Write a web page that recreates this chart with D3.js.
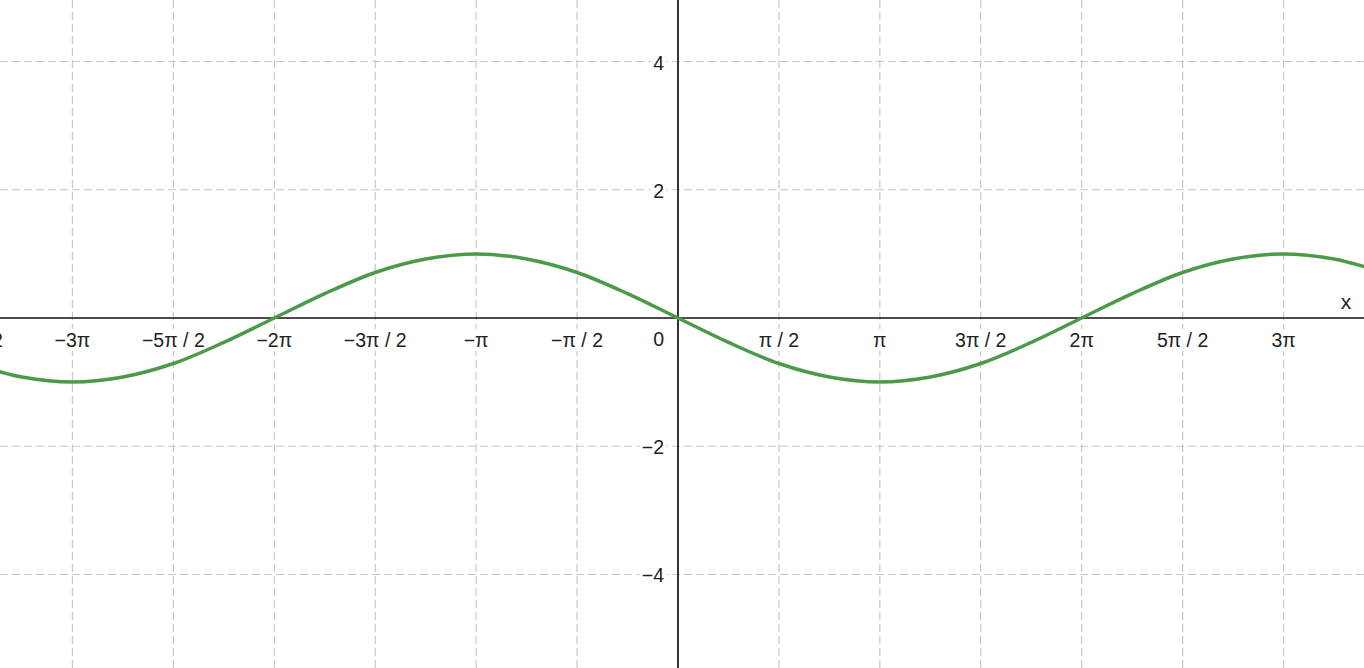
<!DOCTYPE html>
<html><head><meta charset="utf-8">
<script src="https://cdn.jsdelivr.net/npm/d3@7/dist/d3.min.js"></script>
<style>html,body{margin:0;padding:0;background:#fff;overflow:hidden}svg{display:block}</style>
</head><body>
<svg id="c" width="1364" height="668"></svg>
<script>
// curve samples: x in multiples of pi/4, y
const xQuarterPi = [-14,-13,-12,-11,-10,-9,-8,-7,-6,-5,-4,-3,-2,-1,0,1,2,3,4,5,6,7,8,9,10,11,12,13,14];
const yValues = [-0.71,-0.92,-1,-0.92,-0.71,-0.38,0,0.38,0.71,0.92,1,0.92,0.71,0.38,0,-0.38,-0.71,-0.92,-1,-0.92,-0.71,-0.38,0,0.38,0.71,0.92,1,0.92,0.71];
// x ticks in multiples of pi/2
const xTickHalfPi = [-7,-6,-5,-4,-3,-2,-1,1,2,3,4,5,6];
const xTickLabels = ["−7π / 2","−3π","−5π / 2","−2π","−3π / 2","−π","−π / 2","π / 2","π","3π / 2","2π","5π / 2","3π"];
const yTicks = [-4,-2,2,4];
const yTickLabels = ["−4","−2","2","4"];

const W = 1364, H = 668;
const x0 = 678, y0 = 318, pxX = 64.25, pxY = 64.12;
const x = d3.scaleLinear().domain([-x0/pxX, (W-x0)/pxX]).range([0, W]);
const y = d3.scaleLinear().domain([-(H-y0)/pxY, y0/pxY]).range([H, 0]);
const svg = d3.select("#c");
svg.append("rect").attr("width", W).attr("height", H).attr("fill", "#fff");

const grid = svg.append("g").attr("stroke", "#c8c8c8").attr("stroke-width", 1.2).attr("stroke-dasharray", "8,4");
grid.selectAll("line.v").data(xTickHalfPi).enter().append("line")
  .attr("x1", d => x(d*Math.PI/2)).attr("x2", d => x(d*Math.PI/2))
  .attr("y1", 0).attr("y2", H);
grid.selectAll("line.h").data(yTicks).enter().append("line")
  .attr("y1", d => y(d)).attr("y2", d => y(d))
  .attr("x1", 0).attr("x2", W);

// axes
svg.append("line").attr("x1", 0).attr("x2", W).attr("y1", y(0)).attr("y2", y(0)).attr("stroke", "#111").attr("stroke-width", 1.5);
svg.append("line").attr("x1", x(0)).attr("x2", x(0)).attr("y1", 0).attr("y2", H).attr("stroke", "#333").attr("stroke-width", 2);

const labels = svg.append("g").attr("font-family", "Liberation Sans, Arial, sans-serif").attr("font-size", 19.5).attr("fill", "#222");
function addLabel(tx, ty, str, anchor) {
  const g = labels.append("g");
  const r = g.append("rect").attr("fill", "#fff");
  const t = g.append("text").attr("x", tx).attr("y", ty).attr("text-anchor", anchor).text(str);
  const b = t.node().getBBox();
  r.attr("x", b.x - 2).attr("y", b.y).attr("width", b.width + 4).attr("height", b.height);
}
xTickHalfPi.forEach((d, i) => addLabel(x(d*Math.PI/2), y(0) + 29, xTickLabels[i], "middle"));
addLabel(x(0) - 14, y(0) + 28, "0", "end");
yTicks.forEach((d, i) => addLabel(x(0) - 14, y(d) + 8, yTickLabels[i], "end"));
labels.append("text").attr("x", 1346).attr("y", y(0) - 9).attr("font-size", 21).attr("text-anchor", "middle").text("x");

const pts = xQuarterPi.map((k, i) => [k*Math.PI/4, yValues[i]]);
const line = d3.line().x(d => x(d[0])).y(d => y(d[1])).curve(d3.curveCatmullRom.alpha(0.5));
svg.append("path").datum(pts).attr("d", line).attr("fill", "none")
  .attr("stroke", "#4a9a4a").attr("stroke-width", 3.5).attr("stroke-linejoin", "round");
</script>
</body></html>
